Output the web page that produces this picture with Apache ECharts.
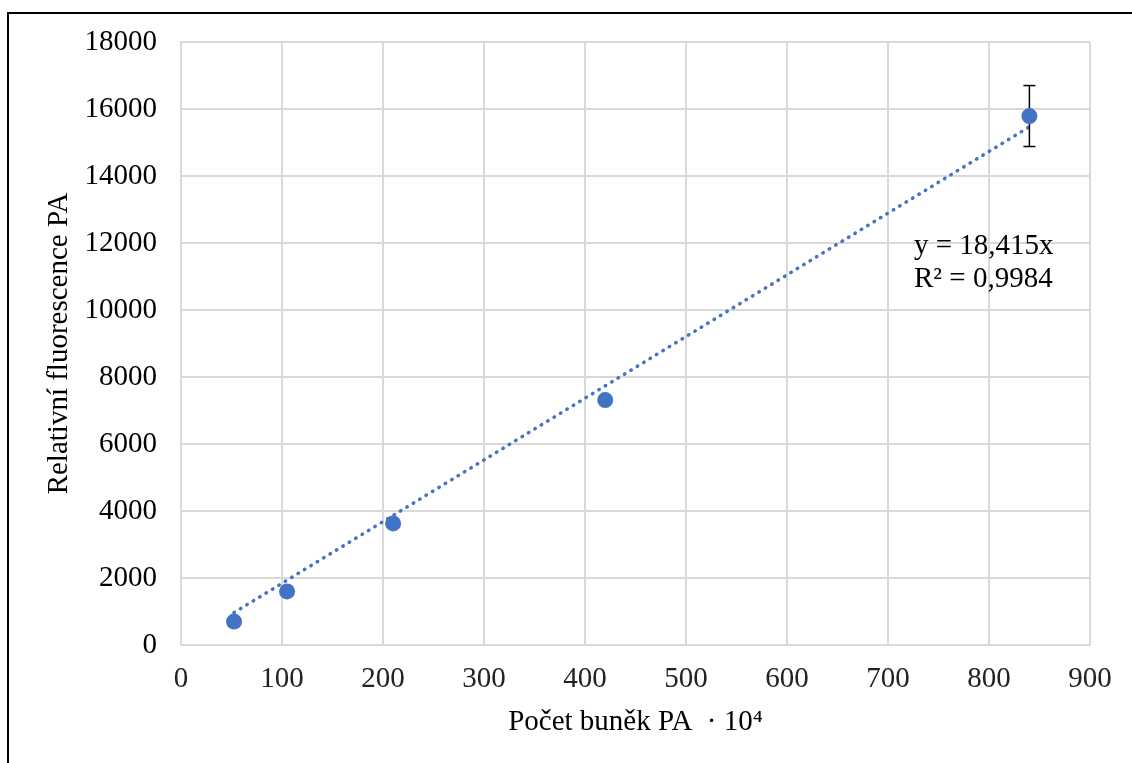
<!DOCTYPE html>
<html>
<head>
<meta charset="utf-8">
<script src="https://cdn.jsdelivr.net/npm/echarts@6/dist/echarts.min.js"></script>
<style>html,body{margin:0;padding:0;background:#fff;}#c{width:1132px;height:763px;}</style>
</head>
<body>
<div id="c"></div>
<script>
const cellCounts = [52.5, 105, 210, 420, 840];
const fluorescence = [700, 1600, 3630, 7310, 15790];
const errorValues = [null, null, null, null, 910];
const trendSlope = 18.415;
const trendLabel = ['y = 18,415x', 'R² = 0,9984'];
const xTitle = 'Počet buněk PA  · 10⁴';
const yTitle = 'Relativní fluorescence PA';

const FONT = '"Liberation Serif", "Times New Roman", serif';
const BLUE = '#4472C4';

const points = cellCounts.map((x, i) => [x, fluorescence[i]]);
const xMin = Math.min(...cellCounts), xMax = Math.max(...cellCounts);
const trend = [[xMin, trendSlope * xMin], [xMax, trendSlope * xMax]];
const errData = cellCounts.map((x, i) => [x, fluorescence[i], errorValues[i]]).filter(d => d[2] != null);

const chart = echarts.init(document.getElementById('c'), null, {renderer: 'canvas'});
chart.setOption({
  animation: false,
  backgroundColor: '#fff',
  grid: {left: 181, right: 42, top: 42, bottom: 118, containLabel: false},
  xAxis: {
    type: 'value', min: 0, max: 900, interval: 100,
    name: xTitle, nameLocation: 'middle', nameGap: 77,
    nameTextStyle: {fontFamily: FONT, fontSize: 29, color: '#000', verticalAlign: 'middle'},
    axisLine: {show: true, lineStyle: {color: '#d9d9d9', width: 2}},
    axisTick: {show: false},
    axisLabel: {fontFamily: FONT, fontSize: 29, color: '#222', margin: 20, formatter: v => String(v)},
    splitLine: {show: true, lineStyle: {color: '#d9d9d9', width: 2}}
  },
  yAxis: {
    type: 'value', min: 0, max: 18000, interval: 2000,
    name: yTitle, nameLocation: 'middle', nameGap: 110, nameRotate: 90,
    nameTextStyle: {fontFamily: FONT, fontSize: 29, color: '#000', verticalAlign: 'middle'},
    axisLine: {show: true, lineStyle: {color: '#d9d9d9', width: 2}},
    axisTick: {show: false},
    axisLabel: {fontFamily: FONT, fontSize: 29, color: '#000', margin: 24, formatter: v => String(v)},
    splitLine: {show: true, lineStyle: {color: '#d9d9d9', width: 2}}
  },
  graphic: [
    {type: 'rect', shape: {x: 8, y: 13, width: 1300, height: 900}, style: {fill: null, stroke: '#000', lineWidth: 2}, z: 100},
    {type: 'text', left: 914, top: 230, style: {text: trendLabel.join('\n'), font: '29px ' + FONT, fill: '#000', lineHeight: 33}, z: 100}
  ],
  series: [
    {
      type: 'line', data: trend, symbol: 'none', silent: true, z: 2,
      lineStyle: {color: BLUE, width: 3.5, type: [0.5, 7], cap: 'round'}
    },
    {
      type: 'custom', z: 3, data: errData,
      renderItem: function (params, api) {
        const x = api.value(0), y = api.value(1), e = api.value(2);
        const top = api.coord([x, y + e]);
        const bot = api.coord([x, y - e]);
        const hw = 6;
        const st = {stroke: '#000', lineWidth: 1.5};
        return {type: 'group', children: [
          {type: 'line', shape: {x1: top[0], y1: top[1], x2: bot[0], y2: bot[1]}, style: st},
          {type: 'line', shape: {x1: top[0] - hw, y1: top[1], x2: top[0] + hw, y2: top[1]}, style: st},
          {type: 'line', shape: {x1: bot[0] - hw, y1: bot[1], x2: bot[0] + hw, y2: bot[1]}, style: st}
        ]};
      }
    },
    {
      type: 'scatter', data: points, symbol: 'circle', symbolSize: 16, z: 4,
      itemStyle: {color: BLUE, opacity: 1}
    }
  ]
});
</script>
</body>
</html>
